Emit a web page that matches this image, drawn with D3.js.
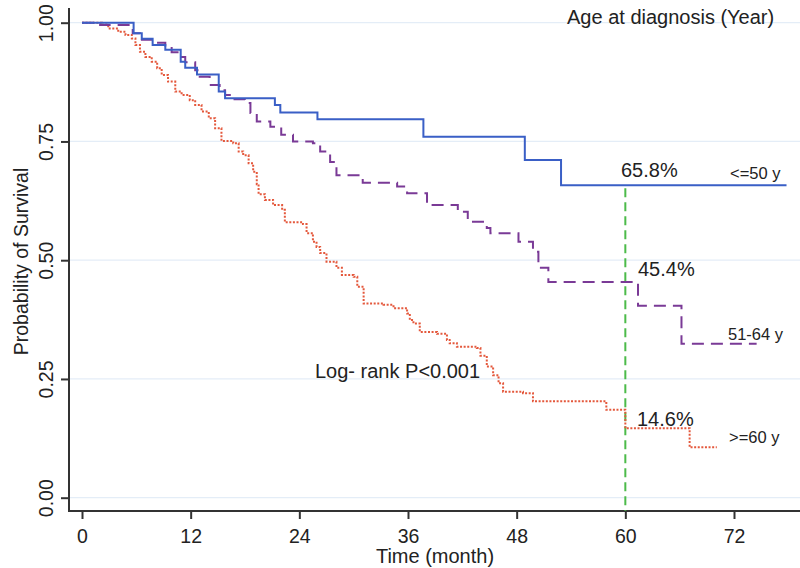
<!DOCTYPE html>
<html><head><meta charset="utf-8">
<script src="https://cdn.jsdelivr.net/npm/d3@7"></script>
<style>body{margin:0;background:#fff}svg{display:block}text{font-family:"Liberation Sans",Arial,sans-serif;fill:#222}</style>
</head><body>
<svg id="c" width="800" height="568"></svg>
<script>
const xTicks = [0, 12, 24, 36, 48, 60, 72];
const yTicks = [0, 0.25, 0.5, 0.75, 1.0];
const yTickLabels = ["0.00", "0.25", "0.50", "0.75", "1.00"];

const groups = ["<=50 y", "51-64 y", ">=60 y"];

const blueTime = [0, 5.7, 6.6, 7.8, 9.2, 10.9, 11.4, 12.7, 15.1, 15.8, 21.3, 21.9, 26.0, 37.7, 48.9, 52.9, 77.8];
const blueSurv = [1.000, 0.978, 0.966, 0.953, 0.943, 0.918, 0.905, 0.891, 0.855, 0.841, 0.827, 0.811, 0.797, 0.760, 0.711, 0.658, 0.658];

const purpleTime = [0, 2.0, 5.6, 6.4, 8.1, 9.2, 9.9, 10.8, 11.4, 12.5, 13.0, 14.1, 15.2, 15.8, 16.7, 18.0, 18.6, 19.3, 20.8, 22.0, 23.3, 25.5, 26.3, 27.4, 28.1, 31.0, 34.8, 35.9, 38.1, 41.5, 42.6, 44.7, 45.1, 48.2, 49.8, 50.4, 51.5, 61.4, 66.2, 74.5];
const purpleSurv = [1.000, 0.995, 0.978, 0.964, 0.958, 0.949, 0.938, 0.928, 0.917, 0.900, 0.886, 0.869, 0.858, 0.848, 0.839, 0.831, 0.810, 0.792, 0.781, 0.764, 0.750, 0.746, 0.729, 0.707, 0.679, 0.663, 0.655, 0.641, 0.616, 0.602, 0.581, 0.568, 0.557, 0.539, 0.518, 0.484, 0.454, 0.404, 0.324, 0.324];

const redTime = [0, 2.2, 2.9, 4.0, 4.8, 5.5, 5.9, 6.4, 7.0, 7.7, 8.3, 8.8, 9.5, 10.3, 11.0, 11.9, 12.5, 13.2, 14.0, 14.7, 15.4, 16.7, 17.3, 17.8, 18.4, 18.9, 19.3, 19.5, 20.2, 21.1, 22.1, 22.4, 24.4, 24.8, 25.5, 25.9, 26.3, 27.0, 28.1, 28.7, 30.0, 30.4, 31.1, 33.3, 34.4, 35.9, 36.2, 36.6, 37.3, 39.2, 40.3, 40.6, 41.4, 43.6, 44.0, 44.7, 45.4, 46.0, 46.5, 48.7, 49.8, 57.9, 60.0, 67.1, 70.1];
const redSurv = [1.000, 0.996, 0.988, 0.981, 0.974, 0.967, 0.953, 0.939, 0.928, 0.918, 0.904, 0.890, 0.876, 0.855, 0.848, 0.837, 0.827, 0.813, 0.799, 0.778, 0.751, 0.746, 0.729, 0.721, 0.704, 0.686, 0.660, 0.639, 0.627, 0.616, 0.606, 0.580, 0.576, 0.557, 0.539, 0.528, 0.515, 0.497, 0.484, 0.469, 0.465, 0.444, 0.409, 0.406, 0.399, 0.388, 0.374, 0.367, 0.349, 0.345, 0.332, 0.325, 0.318, 0.315, 0.299, 0.276, 0.258, 0.241, 0.223, 0.220, 0.203, 0.185, 0.146, 0.106, 0.106];

const refMonth = 60;
const refSurv = [0.658, 0.454, 0.146];
const refLabels = ["65.8%", "45.4%", "14.6%"];

const svg = d3.select("#c");
const x = d3.scaleLinear().domain([0, 72]).range([82, 734]);
const y = d3.scaleLinear().domain([0, 1]).range([497.7, 22.7]);
const axL = 69, axR = 800, axT = 8, axB = 511;

// gridlines
svg.append("g").selectAll("line").data(yTicks).join("line")
  .attr("x1", axL).attr("x2", axR).attr("y1", d => y(d)).attr("y2", d => y(d))
  .attr("stroke", "#e4edf7").attr("stroke-width", 1.2);

// axes
const ga = svg.append("g").attr("transform", `translate(0,${axB})`)
  .call(d3.axisBottom(x).tickValues(xTicks).tickSize(8).tickPadding(10).tickFormat(d3.format("d")));
ga.select(".domain").remove();
ga.selectAll(".tick line").attr("stroke", "#333").attr("stroke-width", 2);
ga.selectAll(".tick text").attr("font-size", 19.5).attr("fill", "#222").attr("dy", "0.71em");

const gl = svg.append("g").attr("transform", `translate(${axL},0)`)
  .call(d3.axisLeft(y).tickValues(yTicks).tickSize(8).tickFormat((d, i) => yTickLabels[i]));
gl.select(".domain").remove();
gl.selectAll(".tick line").attr("stroke", "#333").attr("stroke-width", 2);
gl.selectAll(".tick text").attr("font-size", 19.5).attr("fill", "#222")
  .attr("text-anchor", "middle").attr("x", null).attr("dy", null)
  .attr("transform", "translate(-16,0) rotate(-90)");

svg.append("line").attr("x1", axL).attr("x2", axL).attr("y1", axT).attr("y2", axB + 1)
  .attr("stroke", "#333").attr("stroke-width", 2);
svg.append("line").attr("x1", axL - 1).attr("x2", axR).attr("y1", axB).attr("y2", axB)
  .attr("stroke", "#333").attr("stroke-width", 2);

// reference line
svg.append("line").attr("x1", x(refMonth)).attr("x2", x(refMonth))
  .attr("y1", y(refSurv[0]) + 3).attr("y2", axB)
  .attr("stroke", "#4cbb4a").attr("stroke-width", 2).attr("stroke-dasharray", "9,5");

const line = d3.line().x(d => x(d[0])).y(d => y(d[1])).curve(d3.curveStepAfter);
const series = [
  {t: redTime, s: redSurv, color: "#e4583c", dash: "2,1.6", w: 2},
  {t: purpleTime, s: purpleSurv, color: "#7a3a96", dash: "12,7", w: 2},
  {t: blueTime, s: blueSurv, color: "#3a5fc6", dash: null, w: 2}
];
series.forEach(sr => {
  svg.append("path").datum(sr.t.map((t, i) => [t, sr.s[i]]))
    .attr("d", line).attr("fill", "none").attr("stroke", sr.color)
    .attr("stroke-width", sr.w).attr("stroke-dasharray", sr.dash);
});

// texts
svg.append("text").attr("x", 567).attr("y", 24).attr("font-size", 20).text("Age at diagnosis (Year)");
const refPos = [[621, 177], [638, 275.5], [637, 426]];
refLabels.forEach((t, i) => svg.append("text").attr("x", refPos[i][0]).attr("y", refPos[i][1]).attr("font-size", 20).text(t));
const grpPos = [[730, 179], [728, 340], [729, 443]];
groups.forEach((g, i) => svg.append("text").attr("x", grpPos[i][0]).attr("y", grpPos[i][1]).attr("font-size", 16.5).text(g));
svg.append("text").attr("x", 315).attr("y", 378).attr("font-size", 20).text("Log- rank P<0.001");
svg.append("text").attr("x", 435).attr("y", 563).attr("text-anchor", "middle").attr("font-size", 20).text("Time (month)");
svg.append("text").attr("transform", "translate(28,261.5) rotate(-90)").attr("text-anchor", "middle").attr("font-size", 19.5).text("Probability of Survival");
</script>
</body></html>
